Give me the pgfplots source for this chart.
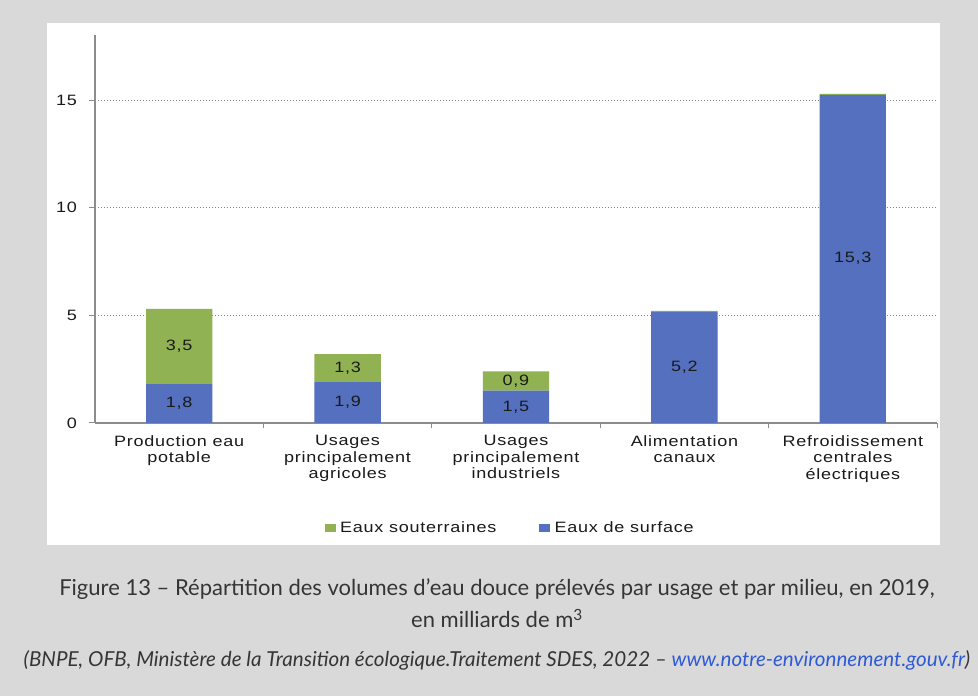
\documentclass[border=0pt]{standalone}
\usepackage{pgfplots}
\pgfplotsset{compat=1.18}
\usepackage{fontspec}
\setmainfont{Liberation Sans}
\newfontfamily\chartfont[FakeStretch=1.2,LetterSpace=5]{Liberation Sans}
\newfontfamily\capfont{Lato}
\definecolor{bggrey}{HTML}{D9D9D9}
\definecolor{surf}{HTML}{5470BE}
\definecolor{sout}{HTML}{91B252}
\definecolor{axgrey}{HTML}{8C8C8C}
\definecolor{capgrey}{HTML}{353535}
\definecolor{linkblue}{HTML}{2E5AD6}
\definecolor{txt}{HTML}{1A1A1A}
\begin{document}
\begin{tikzpicture}
\fill[bggrey] (0pt,0pt) rectangle (978pt,696pt);
\fill[white] (47pt,673pt) rectangle (940pt,151pt);
\begin{axis}[
  at={(95pt,273pt)}, anchor=south west,
  scale only axis, width=842pt, height=387.5pt,
  ybar stacked, bar width=0.394,
  xmin=-0.5, xmax=4.5, ymin=0, ymax=18,
  axis x line*=bottom, axis y line*=left,
  xtick pos=left, ytick pos=left,
  xtick={0,1,2,3,4},
  xticklabels={{Production eau\\potable},{Usages\\principalement\\agricoles},{Usages\\principalement\\industriels},{Alimentation\\canaux},{Refroidissement\\centrales\\électriques}},
  minor xtick={0.5,1.5,2.5,3.5,4.5},
  major x tick style={draw=none},
  ytick={0,5,10,15},
  /pgf/number format/assume math mode=true,
  tick align=outside,
  major tick length=6pt, minor tick length=5pt,
  tick style={axgrey, line width=1pt},
  axis line style={axgrey, line width=1.5pt},
  ymajorgrids, grid style={gray, dash pattern=on 1.2pt off 1.8pt, line width=1pt},
  xticklabel style={font=\chartfont\fontsize{15}{16.5}\selectfont, text=txt, align=center, inner sep=0pt, anchor=north, yshift=-6pt},
  yticklabel style={font=\chartfont\fontsize{15}{18}\selectfont, text=txt, inner sep=0pt, xshift=-12pt},
  legend columns=2,
  legend style={at={(0.495,-0.271)}, anchor=center, draw=none, fill=none,
    font=\chartfont\fontsize{15}{18}\selectfont, text=txt,
    /tikz/every even column/.append style={column sep=38pt},
    nodes={inner xsep=5pt}},
]
\addplot[fill=surf, draw=none, forget plot] coordinates {(0,1.8) (1,1.9) (2,1.5) (3,5.16) (4,15.24)};
\addplot[fill=sout, draw=none, forget plot] coordinates {(0,3.5) (1,1.3) (2,0.9) (3,0.05) (4,0.05)};
\addlegendimage{legend image code/.code={\fill[sout] (0pt,-3pt) rectangle (9.7pt,3.5pt);}}
\addlegendentry{Eaux souterraines}
\addlegendimage{legend image code/.code={\fill[surf] (0pt,-3pt) rectangle (9.7pt,3.5pt);}}
\addlegendentry{Eaux de surface}
\end{axis}
\begin{axis}[
  at={(95pt,273pt)}, anchor=south west,
  scale only axis, width=842pt, height=387.5pt,
  xmin=-0.5, xmax=4.5, ymin=0, ymax=18,
  hide axis,
]
\addplot[draw=none, nodes near coords, point meta=explicit symbolic,
  every node near coord/.append style={anchor=center, inner sep=0pt, font=\chartfont\fontsize{15}{18}\selectfont, text=txt}]
  table[meta=label] {
x y label
0 0.9 1,8
0 3.55 3,5
1 0.95 1,9
1 2.55 1,3
2 0.75 1,5
2 1.95 0,9
3 2.6 5,2
4 7.65 15,3
};
\end{axis}
\node[anchor=base, font=\capfont\fontsize{22}{26}\selectfont, text=capgrey] at (497pt,100pt) {Figure 13 – Répartition des volumes d’eau douce prélevés par usage et par milieu, en 2019,};
\node[anchor=base, font=\capfont\fontsize{22}{26}\selectfont, text=capgrey] at (497pt,68pt) {en milliards de m\textsuperscript{3}};
\node[anchor=base, font=\capfont\itshape\fontsize{20.6}{24}\selectfont, text=capgrey] at (497pt,29pt) {(BNPE, OFB, Ministère de la Transition écologique.Traitement SDES, 2022 – \textcolor{linkblue}{www.notre-environnement.gouv.fr})};
\end{tikzpicture}
\end{document}
